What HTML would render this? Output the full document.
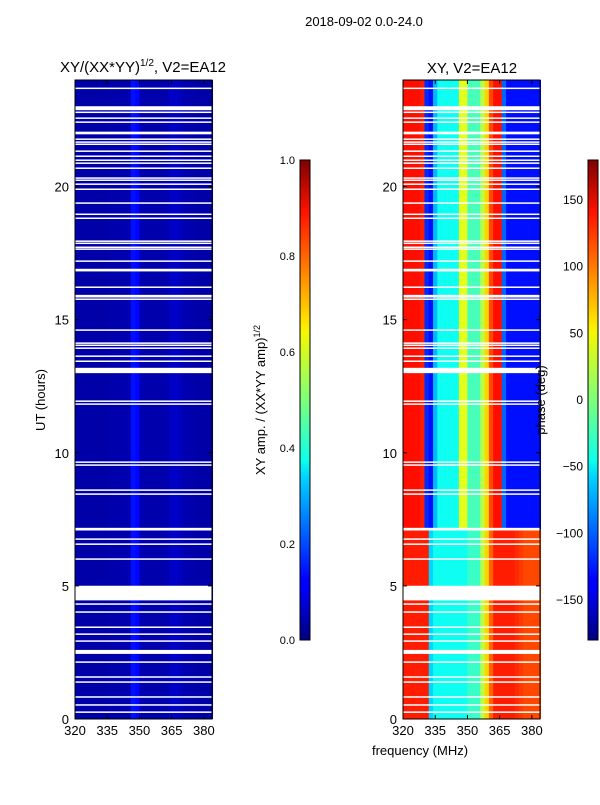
<!DOCTYPE html>
<html><head><meta charset="utf-8"><style>
body{margin:0;background:#fff;width:600px;height:800px;overflow:hidden;font-family:"Liberation Sans",sans-serif}
svg text{font-family:"Liberation Sans",sans-serif;fill:#000}
</style></head><body>
<svg id="fig" width="600" height="800" xmlns="http://www.w3.org/2000/svg">
<defs>
<linearGradient id="jet" x1="0" y1="1" x2="0" y2="0">
<stop offset="0" stop-color="#00007f"/><stop offset="0.11" stop-color="#0000ff"/><stop offset="0.125" stop-color="#0000ff"/>
<stop offset="0.34" stop-color="#00d4ff"/><stop offset="0.375" stop-color="#0dffeb"/><stop offset="0.5" stop-color="#7dff7a"/>
<stop offset="0.64" stop-color="#f4f802"/><stop offset="0.66" stop-color="#ffe600"/><stop offset="0.89" stop-color="#ff1300"/><stop offset="1" stop-color="#7f0000"/>
</linearGradient>
</defs>
<text x="364" y="26" font-size="13" text-anchor="middle">2018-09-02 0.0-24.0</text>
<text x="143" y="72" font-size="15" text-anchor="middle">XY/(XX*YY)<tspan font-size="10" dy="-6">1/2</tspan><tspan dy="6">, V2=EA12</tspan></text>
<text x="472" y="73" font-size="15" text-anchor="middle">XY, V2=EA12</text>
<g id="left"></g>
<g id="right"></g>
<g id="axes"></g>
<rect x="300" y="160" width="10" height="480" fill="url(#jet)" stroke="#000" stroke-width="1"/>
<rect x="588" y="160" width="10" height="480" fill="url(#jet)" stroke="#000" stroke-width="1"/>
<text transform="translate(265,400) rotate(-90)" font-size="13" text-anchor="middle">XY amp. / (XX*YY amp)<tspan font-size="9" dy="-5">1/2</tspan></text>
<text transform="translate(545,400) rotate(-90)" font-size="13" text-anchor="middle">phase (deg)</text>
<text transform="translate(45,400) rotate(-90)" font-size="13" text-anchor="middle">UT (hours)</text>
<text x="420" y="755" font-size="13" text-anchor="middle">frequency (MHz)</text>
</svg>
<script>
const freqBins=[320,322,324,326,328,330,332,334,336,338,340,342,344,346,348,350,352,354,356,358,360,362,364,366,368,370,372,374,376,378,380,382];
const ampProfile=[0.04,0.04,0.04,0.04,0.04,0.04,0.04,0.04,0.045,0.045,0.045,0.045,0.05,0.14,0.13,0.05,0.045,0.045,0.045,0.045,0.045,0.05,0.07,0.07,0.06,0.05,0.045,0.045,0.04,0.04,0.04,0.04];
const phaseUpper=[130,130,130,130,125,-120,-130,-70,-40,-40,-40,-40,-40,35,35,-20,-20,-20,20,60,110,130,130,-100,-130,-130,-130,-130,-130,-130,-130,-130];
const phaseLower=[125,125,125,125,125,125,-60,-40,-40,-40,-40,-40,-40,-40,-40,-25,-25,-25,20,60,100,125,125,125,125,125,120,115,110,110,110,110];
const regimeSplitHour=7.1;
const gapHours=[23.69,22.94,22.79,22.57,22.42,22.01,21.78,21.67,21.59,21.33,21.14,20.99,20.88,20.69,20.32,20.24,20.09,19.90,19.38,18.96,18.81,17.95,17.87,17.72,17.65,17.20,16.86,16.22,15.88,15.77,14.61,14.12,14.04,13.93,13.63,13.44,13.09,11.94,11.83,9.65,9.54,8.60,8.45,7.13,6.76,6.57,6.01,4.73,4.32,4.02,3.45,3.19,2.93,2.52,2.14,1.58,1.39,0.83,0.53,0.26];
const gapWidths=[0.05,0.15,0.05,0.05,0.05,0.1,0.05,0.05,0.05,0.05,0.05,0.05,0.05,0.05,0.05,0.05,0.05,0.05,0.05,0.05,0.05,0.05,0.05,0.05,0.05,0.05,0.1,0.05,0.1,0.05,0.05,0.05,0.05,0.05,0.05,0.05,0.2,0.05,0.05,0.05,0.05,0.05,0.05,0.1,0.05,0.05,0.05,0.55,0.05,0.05,0.05,0.05,0.05,0.15,0.05,0.05,0.05,0.05,0.05,0.05];
const xTicks=[320,335,350,365,380];
const yTicks=[0,5,10,15,20];
const ampTicks=[0,0.2,0.4,0.6,0.8,1.0];
const phaseTicks=[-150,-100,-50,0,50,100,150];

const NS="http://www.w3.org/2000/svg";
const F0=320,F1=383.8,H1=24,PW=137,PT=80,PB=719;
function xs(f,x0){return x0+(f-F0)/(F1-F0)*PW;}
function ys(h){return PB-h/H1*(PB-PT);}
function jet(v){v=Math.max(0,Math.min(1,v));
 const r=Math.max(0,Math.min(1,1.5-Math.abs(4*v-3))),g=Math.max(0,Math.min(1,1.5-Math.abs(4*v-2))),b=Math.max(0,Math.min(1,1.5-Math.abs(4*v-1)));
 return `rgb(${Math.round(r*255)},${Math.round(g*255)},${Math.round(b*255)})`;}
function mk(tag,attrs,parent){const e=document.createElementNS(NS,tag);for(const k in attrs)e.setAttribute(k,attrs[k]);parent.appendChild(e);return e;}
const L=document.getElementById('left'),R=document.getElementById('right'),A=document.getElementById('axes');
function drawPanel(g,x0,valFn){
 [[0,regimeSplitHour],[regimeSplitHour,H1]].forEach(([h0,h1])=>{
  freqBins.forEach((f,i)=>{
   const x=xs(f,x0),w=xs(f+2,x0)-x;
   const r=mk('rect',{x:x,y:ys(h1),width:w+0.6,height:ys(h0)-ys(h1),fill:jet(valFn(i,h0))},g);
   
   
  });
 });
 gapHours.forEach((h,i)=>{
  const w=gapWidths[i];
  const r=mk('rect',{x:x0,y:ys(h+w/2),width:PW,height:Math.max(1.5,ys(h-w/2)-ys(h+w/2)),fill:'#fff'},g);
  
  
 });
}
drawPanel(L,75,(i,h)=>ampProfile[i]);
drawPanel(R,403,(i,h)=>((h<regimeSplitHour?phaseLower[i]:phaseUpper[i])+180)/360);
[75,403].forEach((x0,p)=>{
 const fr=mk('rect',{x:x0,y:PT,width:PW,height:PB-PT,fill:'none',stroke:'#000','stroke-width':1},A);
 
 
 xTicks.forEach(t=>{const x=xs(t,x0);
  mk('line',{x1:x,x2:x,y1:PB,y2:PB-4,stroke:'#000'},A);mk('line',{x1:x,x2:x,y1:PT,y2:PT+4,stroke:'#000'},A);
  const tx=mk('text',{x:x,y:PB+16,'font-size':13,'text-anchor':'middle'},A);tx.textContent=t;
  
  });
 yTicks.forEach(t=>{const y=ys(t);
  mk('line',{x1:x0,x2:x0+4,y1:y,y2:y,stroke:'#000'},A);mk('line',{x1:x0+PW,x2:x0+PW-4,y1:y,y2:y,stroke:'#000'},A);
  const tx=mk('text',{x:x0-6,y:y+5,'font-size':13,'text-anchor':'end'},A);tx.textContent=t;
  
  });
});
ampTicks.forEach(t=>{const y=640-t*480;
 mk('line',{x1:300,x2:310,y1:y,y2:y,stroke:'#000'},A);
 const tx=mk('text',{x:295,y:y+4,'font-size':11,'text-anchor':'end'},A);tx.textContent=t.toFixed(1);
 
 });
phaseTicks.forEach(t=>{const y=400-(t/180)*240;
 mk('line',{x1:588,x2:598,y1:y,y2:y,stroke:'#000'},A);
 const tx=mk('text',{x:583,y:y+4,'font-size':12,'text-anchor':'end'},A);tx.textContent=t<0?'\u2212'+(-t):t;
 
 });
</script>
</body></html>
